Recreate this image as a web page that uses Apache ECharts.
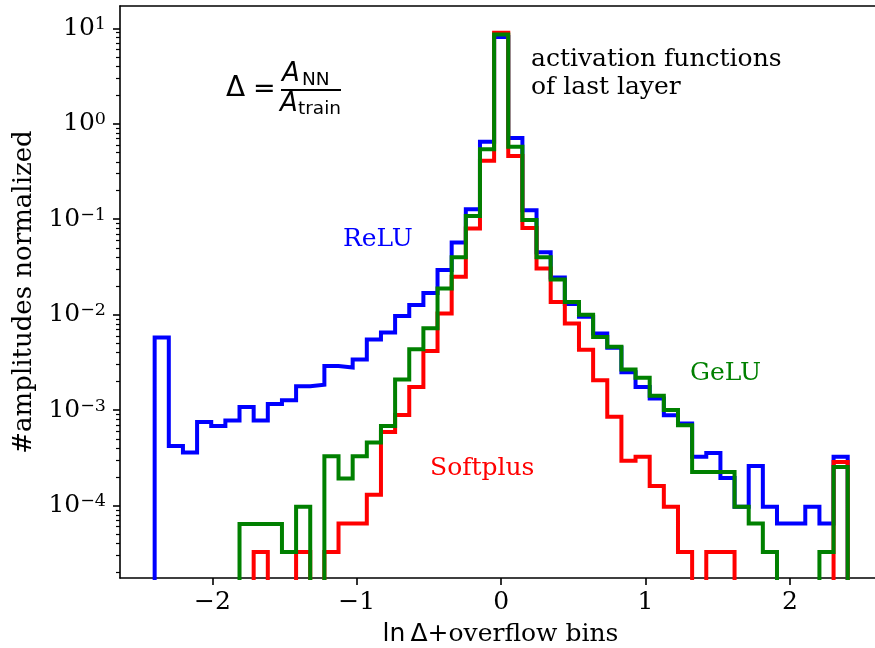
<!DOCTYPE html>
<html><head><meta charset="utf-8">
<script src="https://cdn.jsdelivr.net/npm/echarts@6/dist/echarts.min.js"></script>
<style>html,body{margin:0;padding:0;background:#fff}#c{width:875px;height:648px}</style>
</head><body><div id="c"></div>
<script>
// Histogram binning: 49 bins between -2.4 and 2.4 (first/last are overflow bins)
const binLow = -2.4, binHigh = 2.4, nBins = 49;

// Normalized bin contents, bins left -> right
const relu = [5.77e-3,4.2e-4,3.6e-4,7.5e-4,6.8e-4,7.8e-4,1.08e-3,7.8e-4,1.16e-3,1.27e-3,
  1.78e-3,1.85e-3,2.9e-3,2.8e-3,3.4e-3,5.5e-3,6.5e-3,9.7e-3,1.26e-2,1.69e-2,
  2.93e-2,5.7e-2,0.127,0.647,8.1,0.71,0.124,4.5e-2,2.45e-2,1.29e-2,
  9.5e-3,6.35e-3,4.5e-3,2.5e-3,1.75e-3,1.32e-3,8.85e-4,7.25e-4,3.24e-4,3.56e-4,
  1.95e-4,9.7e-5,2.6e-4,9.7e-5,6.5e-5,6.5e-5,9.7e-5,6.5e-5,3.24e-4];
const softplus = [0,0,0,0,0,0,0,3.27e-5,0,0,
  3.27e-5,0,3.27e-5,6.5e-5,6.5e-5,1.3e-4,5.9e-4,8.9e-4,1.75e-3,4.17e-3,
  1.03e-2,2.5e-2,8.0e-2,0.41,9.0,0.46,8.1e-2,3.05e-2,1.36e-2,8.07e-3,
  4.3e-3,2.06e-3,8.5e-4,2.95e-4,3.25e-4,1.6e-4,9.7e-5,3.27e-5,0,3.27e-5,
  3.27e-5,0,0,0,0,0,0,0,2.86e-4];
const gelu = [0,0,0,0,0,0,6.4e-5,6.4e-5,6.4e-5,3.27e-5,
  9.7e-5,0,3.29e-4,1.92e-4,3.29e-4,4.57e-4,6.8e-4,2.09e-3,4.35e-3,7.2e-3,
  1.88e-2,4.0e-2,0.108,0.54,8.6,0.574,9.8e-2,4.0e-2,2.34e-2,1.36e-2,
  1.0e-2,5.85e-3,4.6e-3,2.66e-3,2.18e-3,1.41e-3,1.0e-3,6.95e-4,2.25e-4,2.25e-4,
  2.25e-4,9.7e-5,6.5e-5,3.27e-5,0,0,0,3.27e-5,2.54e-4];

const xTicks = [-2, -1, 0, 1, 2];
const yTicks = [1e-4, 1e-3, 1e-2, 1e-1, 1, 10];
const yMinorTicks = [];
for (let e = -5; e <= 0; e++) for (let m = 2; m <= 9; m++) yMinorTicks.push(m * Math.pow(10, e));

const X_MIN = -2.64, X_MAX = 2.589;
const Y_MIN = 1.742e-5, Y_MAX = 17.14;

const edges = [];
for (let i = 0; i <= nBins; i++) edges.push(binLow + (binHigh - binLow) * i / nBins);

function stepData(vals) {
  const FLOOR = 1e-9;
  const pts = [[edges[0], FLOOR]];
  vals.forEach((v, i) => pts.push([edges[i], v > 0 ? v : FLOOR]));
  const last = vals[nBins - 1];
  pts.push([edges[nBins], last > 0 ? last : FLOOR]);
  pts.push([edges[nBins], FLOOR]);
  return pts;
}

const SERIF = 'DejaVu Serif';
const SANS = 'DejaVu Sans';
function mkLine(name, vals, color, z) {
  return {
    name, type: 'line', step: 'end', data: stepData(vals), showSymbol: false,
    symbol: 'none', clip: true, z,
    lineStyle: { color, width: 4, join: 'miter', cap: 'butt' },
    emphasis: { disabled: true }
  };
}

const chart = echarts.init(document.getElementById('c'), null, { renderer: 'canvas' });
chart.setOption({
  animation: false,
  backgroundColor: '#fff',
  grid: { left: 120, right: 0, top: 6, bottom: 70, containLabel: false, outerBoundsMode: 'none' },
  xAxis: [{
    type: 'value', min: X_MIN, max: X_MAX, position: 'bottom',
    axisLine: { onZero: false, lineStyle: { color: '#000', width: 1.6 } },
    axisTick: { show: true, length: 7, customValues: xTicks, lineStyle: { color: '#000', width: 1.6 } },
    axisLabel: {
      customValues: xTicks, margin: 12, color: '#000', fontFamily: SERIF, fontSize: 25,
      formatter: v => (v < 0 ? '\u2212' + (-v) : String(v))
    },
    splitLine: { show: false },
    name: '{m|ln\u2009\u0394+}{r|overflow bins}', nameLocation: 'middle', nameGap: 44,
    nameTextStyle: {
      color: '#000', padding: [0, 0, 0, 6],
      rich: {
        m: { fontFamily: SANS, fontSize: 25, color: '#000' },
        r: { fontFamily: SERIF, fontSize: 25, color: '#000' }
      }
    }
  }, {
    type: 'value', min: X_MIN, max: X_MAX, position: 'top',
    axisLine: { show: true, onZero: false, lineStyle: { color: '#000', width: 1.6 } },
    axisTick: { show: false }, axisLabel: { show: false }, splitLine: { show: false }
  }],
  yAxis: [{
    type: 'log', logBase: 10, min: Y_MIN, max: Y_MAX, position: 'left',
    axisLine: { show: true, onZero: false, lineStyle: { color: '#000', width: 1.6 } },
    axisTick: { show: true, length: 7, customValues: yTicks, lineStyle: { color: '#000', width: 1.6 } },
    axisLabel: {
      customValues: yTicks, margin: 14, color: '#000', fontFamily: SERIF, fontSize: 25,
      formatter: v => {
        const e = Math.round(Math.log10(v));
        return '{b|10}{s|' + (e < 0 ? '\u2212' + (-e) : e) + '}';
      },
      rich: {
        b: { fontFamily: SERIF, fontSize: 25, lineHeight: 26, color: '#000' },
        s: { fontFamily: SERIF, fontSize: 17.5, lineHeight: 17, verticalAlign: 'top', color: '#000' }
      }
    },
    splitLine: { show: false },
    name: '#amplitudes normalized', nameLocation: 'middle', nameGap: 70, nameRotate: 90,
    nameTextStyle: { color: '#000', fontFamily: SERIF, fontSize: 26 }
  }, {
    type: 'log', logBase: 10, min: Y_MIN, max: Y_MAX, position: 'left', offset: 0,
    axisLine: { show: false, onZero: false },
    axisTick: { show: true, length: 4, customValues: yMinorTicks, lineStyle: { color: '#000', width: 1.2 } },
    axisLabel: { show: false }, splitLine: { show: false }
  }],
  series: [
    mkLine('ReLU', relu, '#0000ff', 2),
    mkLine('Softplus', softplus, '#ff0000', 3),
    mkLine('GeLU', gelu, '#008000', 4)
  ],
  graphic: [
    { type: 'text', x: 343, y: 239, style: { text: 'ReLU', fill: '#0000ff', font: '25px "DejaVu Serif"', textAlign: 'left', textVerticalAlign: 'middle' } },
    { type: 'text', x: 690, y: 373, style: { text: 'GeLU', fill: '#008000', font: '25px "DejaVu Serif"', textAlign: 'left', textVerticalAlign: 'middle' } },
    { type: 'text', x: 430, y: 468, style: { text: 'Softplus', fill: '#ff0000', font: '25px "DejaVu Serif"', textAlign: 'left', textVerticalAlign: 'middle' } },
    { type: 'text', x: 531, y: 59, style: { text: 'activation functions', fill: '#000', font: '25px "DejaVu Serif"', textAlign: 'left', textVerticalAlign: 'middle' } },
    { type: 'text', x: 531, y: 87, style: { text: 'of last layer', fill: '#000', font: '25px "DejaVu Serif"', textAlign: 'left', textVerticalAlign: 'middle' } },
    { type: 'text', x: 226, y: 89, style: { text: '\u0394', fill: '#000', font: '28px "DejaVu Sans"', textAlign: 'left', textVerticalAlign: 'middle' } },
    { type: 'text', x: 253, y: 90, style: { text: '=', fill: '#000', font: '27px "DejaVu Sans"', textAlign: 'left', textVerticalAlign: 'middle' } },
    { type: 'text', x: 282, y: 74, style: { text: 'A', fill: '#000', font: 'italic 26px "DejaVu Sans"', textAlign: 'left', textVerticalAlign: 'middle' } },
    { type: 'text', x: 302, y: 80, style: { text: 'NN', fill: '#000', font: '18.5px "DejaVu Sans"', textAlign: 'left', textVerticalAlign: 'middle' } },
    { type: 'line', shape: { x1: 281, y1: 90, x2: 341, y2: 90 }, style: { stroke: '#000', lineWidth: 1.8 } },
    { type: 'text', x: 280, y: 104, style: { text: 'A', fill: '#000', font: 'italic 26px "DejaVu Sans"', textAlign: 'left', textVerticalAlign: 'middle' } },
    { type: 'text', x: 298, y: 109, style: { text: 'train', fill: '#000', font: '18.5px "DejaVu Sans"', textAlign: 'left', textVerticalAlign: 'middle' } }
  ]
});
</script></body></html>
